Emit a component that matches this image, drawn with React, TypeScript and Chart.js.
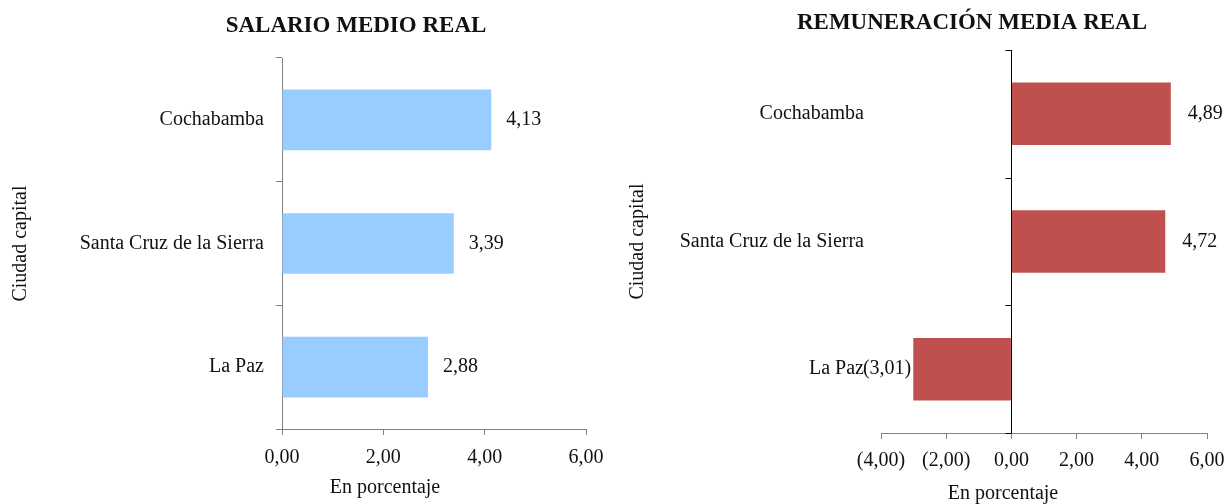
import React, { useEffect, useRef } from "react";
import { Chart, registerables } from "chart.js";

Chart.register(...registerables);

// ---- Data ----
const categories = ["Cochabamba", "Santa Cruz de la Sierra", "La Paz"];
const salarioValues = [4.13, 3.39, 2.88];
const remuneracionValues = [4.89, 4.72, -3.01];
const salarioTickRange = [0, 6];
const remuneracionTickRange = [-4, 6];
const tickStep = 2;
const salarioTitle = "SALARIO MEDIO REAL";
const remuneracionTitle = "REMUNERACIÓN MEDIA REAL";
const xAxisTitle = "En porcentaje";
const yAxisTitle = "Ciudad capital";

const FONT = "'Liberation Serif', 'Times New Roman', serif";
const TEXT = "#111111";

const fmt = (v: number) => {
  const s = Math.abs(v).toFixed(2).replace(".", ",");
  return v < 0 ? `(${s})` : s;
};

const valueLabels = {
  id: "valueLabels",
  afterDatasetsDraw(chart: any, _args: any, opts: any) {
    const ctx = chart.ctx;
    const meta = chart.getDatasetMeta(0);
    const data = chart.data.datasets[0].data as number[];
    ctx.save();
    ctx.font = `20px ${FONT}`;
    ctx.fillStyle = TEXT;
    ctx.textBaseline = "middle";
    meta.data.forEach((bar: any, i: number) => {
      const v = data[i];
      const { x, y } = bar.getProps(["x", "y"], true);
      if (v >= 0) {
        ctx.textAlign = "left";
        ctx.fillText(fmt(v), x + opts.offset, y);
      } else {
        ctx.textAlign = "right";
        ctx.fillText(fmt(v), x - opts.negOffset, y);
      }
    });
    ctx.restore();
  },
};

const zeroAxis = {
  id: "zeroAxis",
  afterDatasetsDraw(chart: any, _args: any, opts: any) {
    if (!opts || !opts.display) return;
    const { ctx, chartArea, scales } = chart;
    const x0 = Math.round(scales.x.getPixelForValue(0)) + 0.5;
    const n = chart.data.labels.length;
    ctx.save();
    ctx.strokeStyle = opts.color;
    ctx.lineWidth = 1;
    ctx.beginPath();
    ctx.moveTo(x0, chartArea.top);
    ctx.lineTo(x0, chartArea.bottom);
    for (let i = 0; i <= n; i++) {
      const y = Math.round(chartArea.top + (i * (chartArea.bottom - chartArea.top)) / n) + 0.5;
      ctx.moveTo(x0 - opts.tickLength, y);
      ctx.lineTo(x0, y);
    }
    ctx.stroke();
    ctx.restore();
  },
};

const texts = {
  id: "texts",
  afterDraw(chart: any, _args: any, opts: any) {
    const { ctx, chartArea } = chart;
    const cx = (chartArea.left + chartArea.right) / 2;
    ctx.save();
    ctx.fillStyle = TEXT;
    ctx.textAlign = "center";
    ctx.textBaseline = "middle";
    ctx.font = `bold 23px ${FONT}`;
    ctx.fillText(opts.title, cx + opts.titleDx, opts.titleY);
    ctx.font = `20px ${FONT}`;
    ctx.fillText(opts.xTitle, cx + opts.xTitleDx, opts.xTitleY);
    ctx.restore();
  },
};

type Cfg = {
  values: number[];
  color: string;
  range: number[];
  title: string;
  top: number;
  right: number;
  xHeight: number;
  yWidth: number;
  yTicks: boolean;
  yLabelPad: number;
  yTitlePad: number;
  xLabelPad: number;
  labelOffset: number;
  titleDx: number;
  titleY: number;
  xTitleDx: number;
  xTitleY: number;
  zero: boolean;
};

function BarPanel({ cfg, left, width }: { cfg: Cfg; left: number; width: number }) {
  const ref = useRef<HTMLCanvasElement>(null);
  useEffect(() => {
    if (!ref.current) return;
    const font = { family: FONT, size: 20, lineHeight: 1.2 };
    const chart = new Chart(ref.current, {
      type: "bar",
      data: {
        labels: categories,
        datasets: [
          {
            data: cfg.values,
            backgroundColor: cfg.color,
            borderWidth: 0,
            barPercentage: 0.49,
            categoryPercentage: 1,
          },
        ],
      },
      plugins: [valueLabels, zeroAxis, texts],
      options: {
        indexAxis: "y",
        responsive: false,
        animation: false,
        layout: { padding: { left: 0, right: cfg.right, top: cfg.top, bottom: 0 } },
        plugins: {
          legend: { display: false },
          tooltip: { enabled: false },
          title: { display: false },
          valueLabels: { offset: cfg.labelOffset, negOffset: 2 },
          zeroAxis: { display: cfg.zero, color: "#000000", tickLength: 6 },
          texts: {
            title: cfg.title,
            titleDx: cfg.titleDx,
            titleY: cfg.titleY,
            xTitle: xAxisTitle,
            xTitleDx: cfg.xTitleDx,
            xTitleY: cfg.xTitleY,
          },
        } as any,
        scales: {
          x: {
            min: cfg.range[0],
            max: cfg.range[1],
            ticks: {
              stepSize: tickStep,
              callback: (v: any) => fmt(Number(v)),
              font,
              color: TEXT,
              padding: cfg.xLabelPad,
            },
            grid: { drawOnChartArea: false, tickLength: 6, color: "#808080" },
            border: { color: "#808080" },
            afterFit: (s: any) => {
              s.height = cfg.xHeight;
            },
          },
          y: {
            ticks: { font, color: TEXT, padding: cfg.yLabelPad },
            grid: {
              drawOnChartArea: false,
              drawTicks: cfg.yTicks,
              tickLength: 6,
              color: "#808080",
              offset: true,
            },
            border: { display: cfg.yTicks, color: "#808080" },
            title: {
              display: true,
              text: yAxisTitle,
              font,
              color: TEXT,
              padding: { top: cfg.yTitlePad, bottom: 0 },
            },
            afterFit: (s: any) => {
              s.width = cfg.yWidth;
            },
          },
        },
      } as any,
    });
    return () => chart.destroy();
  }, []);
  return (
    <canvas
      ref={ref}
      width={width}
      height={504}
      style={{ position: "absolute", left, top: 0, width, height: 504 }}
    />
  );
}

// left panel canvas: 0..640, plot area 282..586
const leftCfg: Cfg = {
  values: salarioValues,
  color: "#99CCFF",
  range: salarioTickRange,
  title: salarioTitle,
  top: 58,
  right: 54,
  xHeight: 75,
  yWidth: 282,
  yTicks: true,
  yLabelPad: 12,
  yTitlePad: 9,
  xLabelPad: 11,
  labelOffset: 15,
  titleDx: -78,
  titleY: 26,
  xTitleDx: -49,
  xTitleY: 488,
  zero: false,
};

// right panel canvas: 613..1263, plot area 881..1207
const rightCfg: Cfg = {
  values: remuneracionValues,
  color: "#C0504D",
  range: remuneracionTickRange,
  title: remuneracionTitle,
  top: 50,
  right: 56,
  xHeight: 71,
  yWidth: 268,
  yTicks: false,
  yLabelPad: 17,
  yTitlePad: 13,
  xLabelPad: 10,
  labelOffset: 17,
  titleDx: -72,
  titleY: 23,
  xTitleDx: -41,
  xTitleY: 494,
  zero: true,
};

export default function App() {
  return (
    <div
      style={{
        position: "fixed",
        left: 0,
        top: 0,
        width: 1227,
        height: 504,
        overflow: "hidden",
        background: "#ffffff",
      }}
    >
      <BarPanel cfg={leftCfg} left={0} width={640} />
      <BarPanel cfg={rightCfg} left={613} width={650} />
    </div>
  );
}
